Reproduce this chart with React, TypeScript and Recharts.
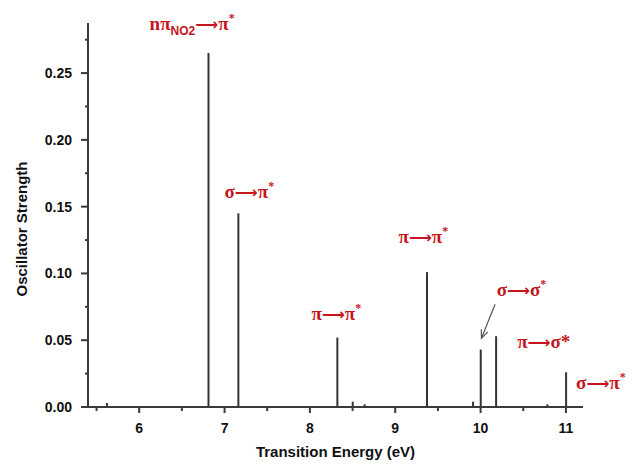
import { Bar, ComposedChart, ReferenceDot, ReferenceLine, XAxis, YAxis } from 'recharts'

// transition energies (eV) and oscillator strengths
const energies = [5.62, 6.81, 7.16, 8.32, 8.5, 8.64, 9.37, 9.91, 10.0, 10.18, 10.78, 11.0]
const strengths = [0.003, 0.265, 0.145, 0.052, 0.004, 0.002, 0.101, 0.004, 0.043, 0.053, 0.002, 0.026]

const xTicks = [5.5, 6, 6.5, 7, 7.5, 8, 8.5, 9, 9.5, 10, 10.5, 11]
const yTicks = [0, 0.025, 0.05, 0.075, 0.1, 0.125, 0.15, 0.175, 0.2, 0.225, 0.25, 0.275]

// annotations: from orbital (+ subscript), to orbital, superscript
const notes = [
  { x: 6.62, y: 0.2866, from: 'nπ', sub: 'NO2', to: 'π', sup: '*' },
  { x: 7.29, y: 0.161, from: 'σ', sub: '', to: 'π', sup: '*' },
  { x: 8.31, y: 0.0694, from: 'π', sub: '', to: 'π', sup: '*' },
  { x: 9.33, y: 0.127, from: 'π', sub: '', to: 'π', sup: '*' },
  { x: 10.48, y: 0.0873, from: 'σ', sub: '', to: 'σ', sup: '*' },
  { x: 10.74, y: 0.0485, from: 'π', sub: '', to: 'σ*', sup: '' },
  { x: 11.41, y: 0.0179, from: 'σ', sub: '', to: 'π', sup: '*' },
]

const arrowFrom = { x: 10.17, y: 0.0769 }
const arrowTo = { x: 10.01, y: 0.0515 }

const data = energies.map((e, i) => ({ e, f: strengths[i] }))

const AXIS = '#3a3a3a'
const RED = '#c4161c'
const FONT = 'Arial, "Liberation Sans", sans-serif'

function XTick(props: any) {
  const { x, y, payload } = props
  const major = Number.isInteger(payload.value)
  return (
    <g>
      <line x1={x} x2={x} y1={y - 1} y2={y + (major ? 6 : 4)} stroke={AXIS} strokeWidth={2} />
      {major && (
        <text x={x} y={y + 26} textAnchor="middle" fontSize={14} fontWeight="bold" fill="#111" fontFamily={FONT}>
          {payload.value}
        </text>
      )}
    </g>
  )
}

function YTick(props: any) {
  const { x, y, payload } = props
  const major = Math.round(payload.value * 1000) % 50 === 0
  return (
    <g>
      <line x1={x - (major ? 7 : 3)} x2={x + 1} y1={y} y2={y} stroke={AXIS} strokeWidth={2} />
      {major && (
        <text x={x - 16} y={y + 5} textAnchor="end" fontSize={14} fontWeight="bold" fill="#111" fontFamily={FONT}>
          {payload.value.toFixed(2)}
        </text>
      )}
    </g>
  )
}

function noteShape(n: (typeof notes)[number]) {
  return (props: any) => (
    <text
      x={props.cx}
      y={props.cy + 6}
      textAnchor="middle"
      fontSize={19}
      fontWeight="bold"
      fill={RED}
      fontFamily='"Liberation Serif", "DejaVu Serif", serif'
    >
      {n.from}
      {n.sub && (
        <tspan fontSize={12} dy={5} fontFamily={FONT}>
          {n.sub}
        </tspan>
      )}
      <tspan dy={n.sub ? -5 : 0} fontFamily='"DejaVu Sans", sans-serif' fontSize={16}>
        ⟶
      </tspan>
      <tspan>{n.to}</tspan>
      {n.sup && (
        <tspan fontSize={12} dy={-8}>
          {n.sup}
        </tspan>
      )}
    </text>
  )
}

function ArrowShape(props: any) {
  const { x1, y1, x2, y2 } = props
  const ang = Math.atan2(y2 - y1, x2 - x1)
  const len = 9
  const a1 = ang + Math.PI - 0.4
  const a2 = ang + Math.PI + 0.4
  return (
    <g>
      <line x1={x1} y1={y1} x2={x2} y2={y2} stroke="#555" strokeWidth={1.2} />
      <polyline
        points={`${x2 + len * Math.cos(a1)},${y2 + len * Math.sin(a1)} ${x2},${y2} ${x2 + len * Math.cos(a2)},${y2 + len * Math.sin(a2)}`}
        fill="none"
        stroke="#555"
        strokeWidth={1.2}
      />
    </g>
  )
}

export default function App() {
  return (
    <div style={{ width: 625, height: 457, background: '#fff' }}>
      <ComposedChart width={625} height={457} data={data} margin={{ top: 15, right: 50, left: 0, bottom: 0 }}>
        <XAxis
          dataKey="e"
          type="number"
          domain={[5.4, 11.2]}
          ticks={xTicks}
          interval={0}
          allowDataOverflow
          height={58}
          tickSize={0}
          tickMargin={0}
          tickLine={false}
          tick={<XTick />}
          axisLine={{ stroke: AXIS, strokeWidth: 2 }}
          label={{
            content: (p: any) => (
              <text
                x={p.viewBox.x + p.viewBox.width / 2}
                y={p.viewBox.y + 50}
                textAnchor="middle"
                fontSize={15}
                fontWeight="bold"
                fill="#111"
                fontFamily={FONT}
              >
                Transition Energy (eV)
              </text>
            ),
          }}
        />
        <YAxis
          type="number"
          domain={[0, 0.2875]}
          ticks={yTicks}
          interval={0}
          allowDataOverflow
          width={80}
          tickSize={0}
          tickMargin={0}
          tickLine={false}
          tick={<YTick />}
          axisLine={{ stroke: AXIS, strokeWidth: 2 }}
          label={{
            content: (p: any) => {
              const cx = 13
              const cy = p.viewBox.y + p.viewBox.height / 2 + 14
              return (
                <text
                  x={cx}
                  y={cy}
                  transform={`rotate(-90 ${cx} ${cy})`}
                  textAnchor="middle"
                  dominantBaseline="central"
                  fontSize={15}
                  fontWeight="bold"
                  fill="#111"
                  fontFamily={FONT}
                >
                  Oscillator Strength
                </text>
              )
            },
          }}
        />
        <Bar dataKey="f" barSize={2} fill="#333" isAnimationActive={false} />
        <ReferenceLine segment={[arrowFrom, arrowTo]} ifOverflow="visible" shape={ArrowShape} />
        {notes.map((n, i) => (
          <ReferenceDot key={i} x={n.x} y={n.y} r={0} ifOverflow="visible" shape={noteShape(n)} />
        ))}
      </ComposedChart>
    </div>
  )
}
